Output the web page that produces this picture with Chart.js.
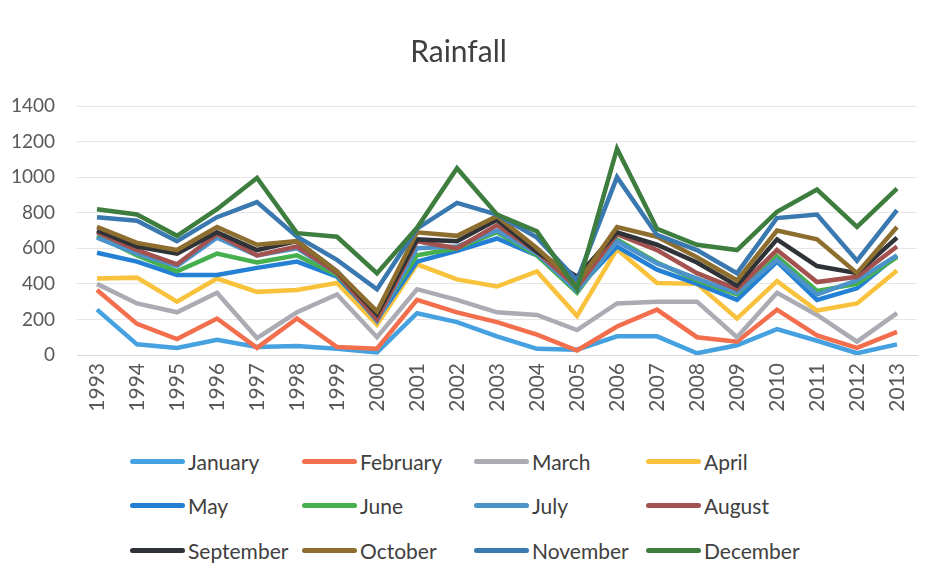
<!DOCTYPE html>
<html>
<head>
<meta charset="utf-8">
<script src="https://cdn.jsdelivr.net/npm/chart.js@4.4.1/dist/chart.umd.min.js"></script>
<style>
    body { margin: 0; background: #fff; }
    #wrap { position: relative; width: 936px; height: 581px; overflow: hidden; }
    #chartBox { position: absolute; left: 0; top: 0; width: 936px; height: 440px; }
    .legend-item {
        position: absolute; display: flex; align-items: center;
        font-family: Lato, sans-serif; font-size: 21px; color: #404040; white-space: nowrap;
    }
    .legend-line { width: 55px; height: 5px; border-radius: 3px; margin-right: 3px; }
</style>
</head>
<body>
<div id="wrap">
    <div id="chartBox"><canvas id="rainChart" width="936" height="440"></canvas></div>
    <div id="legend"></div>
</div>
<script>
// Years on the category axis
const years = ['1993', '1994', '1995', '1996', '1997', '1998', '1999', '2000', '2001', '2002', '2003',
    '2004', '2005', '2006', '2007', '2008', '2009', '2010', '2011', '2012', '2013'];

// Monthly rainfall per year
const january = [255, 60, 40, 85, 45, 50, 35, 15, 235, 185, 105, 35, 30, 105, 105, 10, 55, 145, 80, 10, 60];
const february = [365, 175, 90, 205, 40, 205, 45, 35, 310, 240, 185, 115, 25, 160, 255, 100, 75, 255, 110, 40, 130];
const march = [400, 290, 240, 350, 95, 240, 340, 100, 370, 310, 240, 225, 140, 290, 300, 300, 100, 350, 225, 75, 235];
const april = [430, 435, 300, 430, 355, 365, 405, 170, 510, 425, 385, 470, 220, 595, 405, 400, 205, 415, 250, 290, 475];
const may = [575, 525, 450, 450, 490, 525, 440, 200, 525, 585, 655, 560, 370, 610, 480, 400, 310, 525, 310, 375, 560];
const june = [670, 560, 470, 570, 520, 560, 450, 210, 560, 600, 690, 560, 350, 650, 520, 420, 340, 555, 360, 400, 550];
const july = [660, 570, 500, 660, 560, 600, 460, 190, 600, 610, 700, 570, 360, 640, 515, 430, 350, 535, 340, 420, 560];
const august = [690, 590, 510, 680, 560, 610, 460, 200, 640, 600, 730, 580, 380, 680, 590, 460, 370, 590, 410, 440, 610];
const september = [700, 610, 570, 690, 590, 640, 470, 230, 650, 640, 760, 580, 440, 690, 620, 520, 390, 650, 500, 460, 660];
const october = [720, 630, 590, 720, 620, 640, 470, 245, 690, 670, 780, 600, 400, 720, 665, 550, 420, 700, 650, 460, 720];
const november = [775, 755, 640, 775, 860, 665, 535, 370, 710, 855, 790, 660, 420, 1000, 675, 590, 460, 770, 790, 530, 815];
const december = [820, 790, 670, 820, 995, 685, 665, 460, 715, 1050, 790, 695, 370, 1160, 710, 620, 590, 805, 930, 720, 935];

const monthNames = ['January', 'February', 'March', 'April', 'May', 'June',
    'July', 'August', 'September', 'October', 'November', 'December'];
const monthData = [january, february, march, april, may, june,
    july, august, september, october, november, december];
const monthColors = ['#45A1E0', '#F36E4C', '#ABABB3', '#F9C23C', '#2480D4', '#45B04D',
    '#4C93C9', '#A3524F', '#2F3236', '#8E6E2E', '#3A78B0', '#3D7D3E'];

const yTicks = [0, 200, 400, 600, 800, 1000, 1200, 1400];

const font = 'Lato, sans-serif';

const datasets = monthNames.map((name, i) => ({
    label: name,
    data: monthData[i],
    borderColor: monthColors[i],
    backgroundColor: monthColors[i],
    borderWidth: 4.5,
    pointRadius: 0,
    tension: 0,
    fill: false,
    order: monthNames.length - i   // later months drawn on top
}));

const chart = new Chart(document.getElementById('rainChart'), {
    type: 'line',
    data: { labels: years, datasets: datasets },
    options: {
        responsive: false,
        animation: false,
        devicePixelRatio: 1,
        layout: { padding: { left: 0, right: 19, top: 0, bottom: 0 } },
        plugins: {
            legend: { display: false },
            tooltip: { enabled: false },
            title: {
                display: true,
                text: 'Rainfall',
                color: '#404040',
                font: { family: font, size: 30, weight: 'normal' },
                padding: { top: 34, bottom: 36 }
            }
        },
        scales: {
            x: {
                offset: true,
                grid: { display: false, drawTicks: false },
                border: { display: true, color: '#d9d9d9', width: 1 },
                ticks: {
                    color: '#595959',
                    font: { family: font, size: 21 },
                    minRotation: 90,
                    maxRotation: 90,
                    padding: 8,
                    autoSkip: false
                },
                afterFit: scale => { scale.height = 85; }
            },
            y: {
                min: 0,
                max: 1400,
                afterBuildTicks: scale => { scale.ticks = yTicks.map(v => ({ value: v })); },
                grid: { color: '#e6e6e6', drawTicks: false },
                border: { display: false },
                ticks: {
                    color: '#595959',
                    font: { family: font, size: 19 },
                    padding: 22,
                    callback: v => String(v)
                },
                afterFit: scale => { scale.width = 77; }
            }
        }
    }
});

// HTML legend in a 4-column grid, built from the datasets
const legendBox = document.getElementById('legend');
const rowCenters = [461, 505, 550];
chart.data.datasets.forEach((ds, i) => {
    const item = document.createElement('div');
    item.className = 'legend-item';
    item.style.left = (130 + (i % 4) * 172) + 'px';
    item.style.top = (rowCenters[Math.floor(i / 4)] - 14) + 'px';
    item.style.height = '28px';
    const line = document.createElement('span');
    line.className = 'legend-line';
    line.style.background = ds.borderColor;
    const text = document.createElement('span');
    text.textContent = ds.label;
    item.appendChild(line);
    item.appendChild(text);
    legendBox.appendChild(item);
});
</script>
</body>
</html>
